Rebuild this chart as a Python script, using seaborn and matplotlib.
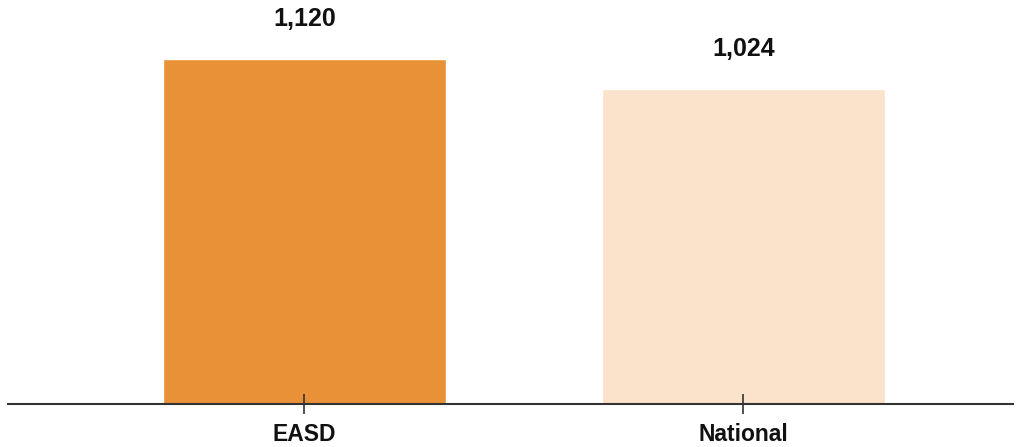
import pandas as pd
import matplotlib.pyplot as plt
import seaborn as sns

categories = ["EASD", "National"]
values = [1120, 1024]
colors = ["#E89137", "#FAE3CA"]

df = pd.DataFrame({"group": categories, "value": values})

sns.set_style("white")
plt.rcParams['font.family'] = ['Liberation Sans', 'DejaVu Sans']

fig = plt.figure(figsize=(10.18, 4.47), dpi=100)
ax = fig.add_axes([8 / 1018, 43 / 447, 1005 / 1018, 404 / 447])

sns.barplot(data=df, x="group", y="value", hue="group", palette=colors,
            width=0.645, saturation=1, legend=False, ax=ax)

for i, v in enumerate(values):
    ax.annotate(f"{v:,}", (i, v), xytext=(0, 20), textcoords="offset points",
                ha="center", va="bottom", fontsize=18, fontweight="bold",
                color="#111111")

ax.set_ylim(0, 1312)
ax.set_xlim(-0.675, 1.614)
ax.set_xlabel("")
ax.set_ylabel("")
ax.set_yticks([])
ax.set_axisbelow(False)
for s in ["top", "right", "left"]:
    ax.spines[s].set_visible(False)
ax.spines["bottom"].set_color("#333333")
ax.spines["bottom"].set_linewidth(1.5)
ax.tick_params(axis="x", bottom=True, direction="inout", length=14, width=1.2,
               color="#333333", pad=7, labelsize=16.5, labelcolor="#111111")
for lbl in ax.get_xticklabels():
    lbl.set_fontweight("bold")

fig.savefig("out.png", dpi=100)
